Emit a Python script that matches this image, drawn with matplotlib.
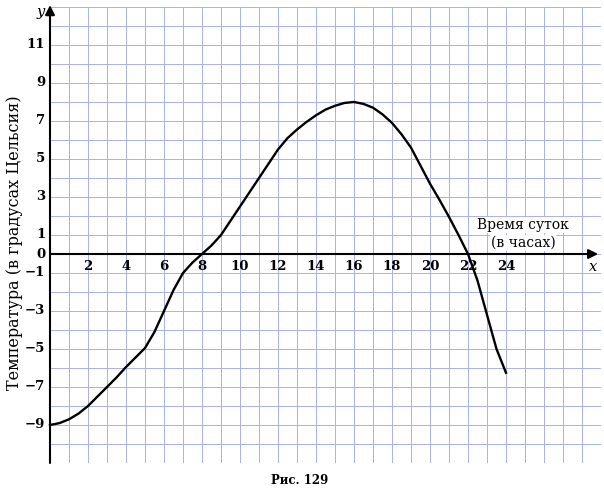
import matplotlib
matplotlib.use('Agg')
import matplotlib.pyplot as plt

# время суток (часы) и температура
hours = [0, 0.5, 1, 1.5, 2, 2.5, 3, 3.5, 4, 4.5, 5, 5.5, 6, 6.5, 7, 7.5, 8,
         8.5, 9, 9.5, 10, 10.5, 11, 11.5, 12, 12.5, 13, 13.5, 14, 14.5, 15,
         15.5, 16, 16.5, 17, 17.5, 18, 18.5, 19, 19.5, 20, 20.5, 21, 21.5,
         22, 22.5, 23, 23.5, 24]
temps = [-9.0, -8.9, -8.7, -8.4, -8.0, -7.5, -7.0, -6.5, -5.95, -5.45, -4.95,
         -4.1, -3.0, -1.9, -1.0, -0.45, 0.0, 0.45, 1.0, 1.75, 2.5, 3.25, 4.0,
         4.75, 5.5, 6.1, 6.55, 6.95, 7.3, 7.6, 7.8, 7.95, 8.0, 7.9, 7.7, 7.35,
         6.9, 6.3, 5.6, 4.65, 3.7, 2.85, 1.95, 1.0, 0.0, -1.4, -3.2, -5.0, -6.25]

x_ticks = [2, 4, 6, 8, 10, 12, 14, 16, 18, 20, 22, 24]
y_ticks = [11, 9, 7, 5, 3, 1, 0, -1, -3, -5, -7, -9]

font = 'DejaVu Serif'
W, H = 604, 493

fig = plt.figure(figsize=(W / 100, H / 100), dpi=100)
ax = fig.add_axes([50 / W, 1 - 463 / H, 551 / W, 456 / H])
ax.set_xlim(0, 29)
ax.set_ylim(-11, 13)

# клетчатая бумага
for i in range(0, 30):
    ax.axvline(i, color='#a9b3e4', lw=0.7, zorder=0)
for j in range(-11, 14):
    ax.axhline(j, color='#a9b3e4', lw=0.7, zorder=0)

for s in ax.spines.values():
    s.set_visible(False)
ax.set_xticks([])
ax.set_yticks([])

# оси со стрелками
ax.annotate('', xy=(28.85, 0), xytext=(0, 0),
            arrowprops=dict(arrowstyle='-|>', color='black', lw=1.5,
                            mutation_scale=14, shrinkA=0, shrinkB=0),
            annotation_clip=False)
ax.annotate('', xy=(0, 13.1), xytext=(0, -11),
            arrowprops=dict(arrowstyle='-|>', color='black', lw=1.5,
                            mutation_scale=14, shrinkA=0, shrinkB=0),
            annotation_clip=False)

ax.plot(hours, temps, color='black', lw=1.7, zorder=5, clip_on=False)

for t in x_ticks:
    ax.text(t, -0.68, str(t), ha='center', va='center', fontsize=9.5,
            family=font, fontweight='bold')
for t in y_ticks:
    ax.text(-0.25, t, str(t).replace('-', '\u2212'), ha='right', va='center',
            fontsize=9.5, family=font, fontweight='bold')

ax.text(28.6, -0.68, 'x', ha='center', va='center', fontsize=10.5,
        family=font, style='italic')
ax.text(-0.5, 12.75, 'y', ha='center', va='center', fontsize=10.5,
        family=font, style='italic')

ax.text(24.9, 1.53, 'Время суток', ha='center', va='center', fontsize=10,
        family=font, bbox=dict(facecolor='white', edgecolor='none', pad=0.5))
ax.text(24.9, 0.58, '(в часах)', ha='center', va='center', fontsize=10,
        family=font, bbox=dict(facecolor='white', edgecolor='none', pad=0.5))

fig.text(15 / W, 1 - 243 / H, 'Температура (в градусах Цельсия)',
         rotation=90, ha='center', va='center', fontsize=11.5, family=font)
fig.text(300 / W, 1 - 481 / H, 'Рис. 129', ha='center', va='center',
         fontsize=8.5, family=font, fontweight='bold')

fig.savefig('out.png', dpi=100)
